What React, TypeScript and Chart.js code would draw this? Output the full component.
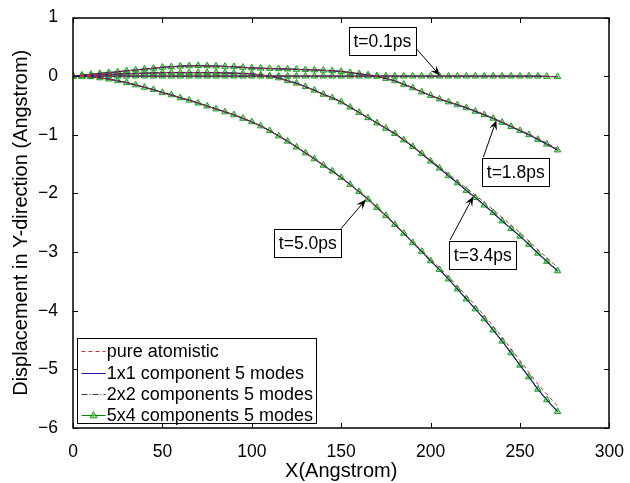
import React, { useEffect, useRef } from 'react';
import { Chart, registerables } from 'chart.js';

Chart.register(...registerables);

const FONT = "'Liberation Sans', Arial, Helvetica, sans-serif";

// x positions (Angstrom)
const xFine = [0, 5, 10, 15, 20, 25, 30, 35, 40, 45, 50, 55, 60, 65, 70, 75, 80, 85, 90, 95, 100, 105, 110, 115, 120, 125, 130, 135, 140, 145, 150, 155, 160, 165, 170, 175, 180, 185, 190, 195, 200, 205, 210, 215, 220, 225, 230, 235, 240, 245, 250, 255, 260, 265, 271];
const xCoarse = [0, 10, 20, 30, 40, 50, 60, 70, 80, 90, 100, 110, 120, 130, 140, 150, 160, 170, 180, 190, 200, 210, 220, 230, 240, 250, 260, 271];

// reduced-order (component) models, sampled on xFine
const t01Fine = [0, 0, 0, 0, 0, 0, 0, 0, 0, 0, 0, 0, 0, 0, 0, 0, 0, 0, 0, 0, 0, 0, 0, 0, 0, 0, 0, 0, 0, 0, 0, 0, 0, 0, 0, 0, 0, 0, 0, 0, 0, 0, 0, 0, 0, 0, 0, 0, 0, 0, 0, 0, 0, -0.005, -0.01];
const t18Fine = [0, 0.015, 0.03, 0.045, 0.06, 0.075, 0.09, 0.105, 0.12, 0.135, 0.15, 0.16, 0.17, 0.175, 0.18, 0.175, 0.17, 0.165, 0.16, 0.15, 0.14, 0.135, 0.13, 0.125, 0.12, 0.115, 0.11, 0.105, 0.1, 0.09, 0.08, 0.06, 0.04, 0.02, 0.0, -0.04, -0.08, -0.14, -0.2, -0.27, -0.33, -0.39, -0.44, -0.49, -0.54, -0.6, -0.66, -0.72, -0.79, -0.86, -0.93, -1.0, -1.08, -1.16, -1.26];
const t34Fine = [0, 0.005, 0.01, 0.02, 0.03, 0.035, 0.04, 0.045, 0.05, 0.055, 0.06, 0.06, 0.06, 0.06, 0.06, 0.06, 0.06, 0.055, 0.05, 0.045, 0.04, 0.02, 0.0, -0.03, -0.08, -0.12, -0.18, -0.24, -0.31, -0.37, -0.44, -0.53, -0.62, -0.71, -0.8, -0.89, -0.98, -1.09, -1.2, -1.32, -1.45, -1.57, -1.7, -1.82, -1.95, -2.07, -2.2, -2.33, -2.47, -2.6, -2.73, -2.87, -3.02, -3.16, -3.32];
const t50Fine = [0, -0.003, -0.01, -0.03, -0.05, -0.08, -0.11, -0.15, -0.19, -0.23, -0.28, -0.32, -0.37, -0.41, -0.46, -0.51, -0.56, -0.61, -0.66, -0.72, -0.78, -0.85, -0.93, -1.02, -1.11, -1.21, -1.31, -1.41, -1.52, -1.62, -1.73, -1.85, -1.97, -2.1, -2.24, -2.38, -2.53, -2.68, -2.84, -2.99, -3.15, -3.3, -3.46, -3.63, -3.8, -3.97, -4.14, -4.33, -4.52, -4.72, -4.93, -5.13, -5.34, -5.52, -5.72];

// pure atomistic, sampled on xCoarse
const atom01 = [0, 0, 0, 0, 0, 0, 0, 0, 0, 0, 0, 0, 0, 0, 0, 0, 0, 0, 0, 0, 0, 0, 0, 0, 0, 0, 0, -0.01];
const atom18 = [0, 0.03, 0.06, 0.09, 0.12, 0.15, 0.17, 0.18, 0.17, 0.16, 0.14, 0.13, 0.12, 0.11, 0.1, 0.08, 0.04, 0.0, -0.08, -0.2, -0.33, -0.44, -0.53, -0.65, -0.78, -0.92, -1.06, -1.24];
const atom34 = [0, 0.01, 0.03, 0.04, 0.05, 0.06, 0.06, 0.06, 0.06, 0.05, 0.04, 0.0, -0.08, -0.18, -0.31, -0.44, -0.62, -0.8, -0.98, -1.19, -1.43, -1.67, -1.91, -2.15, -2.41, -2.67, -2.96, -3.26];
const atom50 = [0, -0.01, -0.05, -0.11, -0.19, -0.28, -0.37, -0.46, -0.56, -0.66, -0.78, -0.93, -1.11, -1.31, -1.52, -1.73, -1.97, -2.24, -2.52, -2.83, -3.12, -3.42, -3.74, -4.08, -4.45, -4.85, -5.25, -5.63];

const legendLabels = ['pure atomistic', '1x1 component 5 modes', '2x2 components 5 modes', '5x4 components 5 modes'];

// annotations: box centre, arrow tail and arrow tip in data coordinates
const annotations = [
  { label: 't=0.1ps', box: [173.0, 0.596], tail: [191.6, 0.483], tip: [205.2, 0.01] },
  { label: 't=1.8ps', box: [247.6, -1.629], tail: [229.5, -1.38], tip: [236.8, -0.75] },
  { label: 't=3.4ps', box: [229.2, -3.045], tail: [210.9, -2.794], tip: [223.9, -2.05] },
  { label: 't=5.0ps', box: [131.3, -2.84], tail: [149.9, -2.6], tip: [163.8, -2.105] },
];

const RED = '#d42a2a';
const BLUE = '#1a1aa0';
const DARK = '#3a3a3a';
const GREEN = '#078a07';
const MARK_EDGE = '#1f9f1f';
const MARK_FILL = 'rgba(80,200,80,0.6)';

const pts = (xs: number[], ys: number[]) => xs.map((x, i) => ({ x, y: ys[i] }));
const minus = (v: number | string) => String(v).replace('-', '\u2212');

const framePlugin = {
  id: 'matlabFrame',
  afterDraw(chart: any) {
    const { ctx, chartArea: a, scales } = chart;
    const L = Math.round(a.left);
    const R = Math.round(a.right);
    const T = Math.round(a.top);
    const B = Math.round(a.bottom);
    ctx.save();
    ctx.strokeStyle = '#000';
    ctx.lineWidth = 1.5;
    ctx.strokeRect(L, T, R - L, B - T);
    ctx.lineWidth = 1;
    const tl = 5;
    ctx.beginPath();
    scales.x.ticks.forEach((t: any) => {
      const px = Math.round(scales.x.getPixelForValue(t.value)) + 0.5;
      ctx.moveTo(px, B); ctx.lineTo(px, B - tl);
      ctx.moveTo(px, T); ctx.lineTo(px, T + tl);
    });
    scales.y.ticks.forEach((t: any) => {
      const py = Math.round(scales.y.getPixelForValue(t.value)) + 0.5;
      ctx.moveTo(L, py); ctx.lineTo(L + tl, py);
      ctx.moveTo(R, py); ctx.lineTo(R - tl, py);
    });
    ctx.stroke();

    // annotations
    ctx.font = `17.5px ${FONT}`;
    annotations.forEach((an) => {
      const tx = scales.x.getPixelForValue(an.tail[0]);
      const ty = scales.y.getPixelForValue(an.tail[1]);
      const hx = scales.x.getPixelForValue(an.tip[0]);
      const hy = scales.y.getPixelForValue(an.tip[1]);
      const ang = Math.atan2(hy - ty, hx - tx);
      const len = 10, hw = 4;
      const cos = Math.cos(ang), sin = Math.sin(ang);
      ctx.strokeStyle = '#000';
      ctx.lineWidth = 1;
      ctx.beginPath();
      ctx.moveTo(tx, ty);
      ctx.lineTo(hx - cos * len * 0.6, hy - sin * len * 0.6);
      ctx.stroke();
      ctx.fillStyle = '#000';
      ctx.beginPath();
      ctx.moveTo(hx, hy);
      ctx.lineTo(hx - cos * len - sin * hw, hy - sin * len + cos * hw);
      ctx.lineTo(hx - cos * len * 0.6, hy - sin * len * 0.6);
      ctx.lineTo(hx - cos * len + sin * hw, hy - sin * len - cos * hw);
      ctx.closePath();
      ctx.fill();

      const cx = scales.x.getPixelForValue(an.box[0]);
      const cy = scales.y.getPixelForValue(an.box[1]);
      const tw = ctx.measureText(an.label).width;
      const bw = Math.round(tw + 9);
      const bh = 28;
      const bx = Math.round(cx - bw / 2) + 0.5;
      const by = Math.round(cy - bh / 2) + 0.5;
      ctx.fillStyle = '#fff';
      ctx.fillRect(bx, by, bw, bh);
      ctx.strokeStyle = '#000';
      ctx.strokeRect(bx, by, bw, bh);
      ctx.fillStyle = '#000';
      ctx.textAlign = 'center';
      ctx.textBaseline = 'middle';
      ctx.fillText(an.label, cx, cy + 1);
    });

    // legend (inside plot, bottom-left)
    ctx.font = `18px ${FONT}`;
    const rowH = 21.4;
    const maxW = Math.max(...legendLabels.map((s) => ctx.measureText(s).width));
    const lx = Math.round(a.left + 3.7) + 0.5;
    const lh = 85;
    const lw = Math.round(29.3 + maxW + 4);
    const ly = Math.round(a.bottom - 5 - lh) + 0.5;
    ctx.fillStyle = '#fff';
    ctx.fillRect(lx, ly, lw, lh);
    ctx.strokeStyle = '#000';
    ctx.lineWidth = 1;
    ctx.strokeRect(lx, ly, lw, lh);
    const styles = [
      { color: RED, dash: [4, 3] },
      { color: BLUE, dash: [] },
      { color: DARK, dash: [6, 2, 1, 2] },
      { color: GREEN, dash: [] },
    ];
    legendLabels.forEach((lab, i) => {
      const y = ly + 12.7 + i * rowH;
      const s = styles[i];
      ctx.save();
      ctx.strokeStyle = s.color;
      ctx.setLineDash(s.dash);
      ctx.beginPath();
      ctx.moveTo(lx + 4, Math.round(y) + 0.5);
      ctx.lineTo(lx + 28, Math.round(y) + 0.5);
      ctx.stroke();
      ctx.restore();
      if (i === 3) {
        const mx = lx + 16, my = y;
        ctx.beginPath();
        ctx.moveTo(mx, my - 3.8);
        ctx.lineTo(mx + 3.6, my + 2.4);
        ctx.lineTo(mx - 3.6, my + 2.4);
        ctx.closePath();
        ctx.fillStyle = MARK_FILL;
        ctx.fill();
        ctx.strokeStyle = MARK_EDGE;
        ctx.stroke();
      }
      ctx.fillStyle = '#000';
      ctx.textAlign = 'left';
      ctx.textBaseline = 'middle';
      ctx.fillText(lab, lx + 29.3, y + 1);
    });
    ctx.restore();
  },
};

export default function App() {
  const ref = useRef<HTMLCanvasElement | null>(null);

  useEffect(() => {
    if (!ref.current) return;
    const atomSets = [atom01, atom18, atom34, atom50];
    const fineSets = [t01Fine, t18Fine, t34Fine, t50Fine];
    const datasets: any[] = [];
    atomSets.forEach((ys) =>
      datasets.push({ data: pts(xCoarse, ys), borderColor: RED, borderDash: [4, 3], borderWidth: 1, pointRadius: 0 })
    );
    fineSets.forEach((ys) =>
      datasets.push({ data: pts(xFine, ys), borderColor: BLUE, borderWidth: 1, pointRadius: 0 })
    );
    fineSets.forEach((ys) =>
      datasets.push({ data: pts(xFine, ys), borderColor: DARK, borderDash: [6, 2, 1, 2], borderWidth: 1, pointRadius: 0 })
    );
    fineSets.forEach((ys) =>
      datasets.push({
        data: pts(xFine, ys),
        borderColor: GREEN,
        borderWidth: 1.2,
        pointStyle: 'triangle',
        pointRadius: 3.8,
        pointBorderColor: MARK_EDGE,
        pointBackgroundColor: MARK_FILL,
        pointBorderWidth: 1,
      })
    );

    const chart = new Chart(ref.current, {
      type: 'line',
      data: { datasets },
      options: {
        animation: false,
        responsive: true,
        maintainAspectRatio: false,
        layout: { padding: { top: 15, right: 16, left: 0, bottom: 0 } },
        plugins: { legend: { display: false }, tooltip: { enabled: false } },
        elements: { line: { tension: 0 } },
        scales: {
          x: {
            type: 'linear',
            min: 0,
            max: 300,
            ticks: { stepSize: 50, color: '#000', font: { size: 17.5, family: FONT }, padding: 6, maxRotation: 0, callback: (v: any) => minus(v) },
            grid: { display: false },
            border: { display: false },
            title: { display: true, text: 'X(Angstrom)', color: '#000', font: { size: 20, family: FONT }, padding: { top: 0, bottom: 0 } },
            afterFit: (s: any) => { s.height = 55; },
          },
          y: {
            type: 'linear',
            min: -6,
            max: 1,
            ticks: { stepSize: 1, color: '#000', font: { size: 17.5, family: FONT }, padding: 7, callback: (v: any) => minus(v) },
            grid: { display: false },
            border: { display: false },
            title: { display: true, text: 'Displacement in Y-direction (Angstrom)', color: '#000', font: { size: 20, family: FONT }, padding: { top: 9, bottom: 0 } },
            afterFit: (s: any) => { s.width = 73; },
          },
        },
      },
      plugins: [framePlugin],
    });
    return () => chart.destroy();
  }, []);

  return (
    <div style={{ position: 'fixed', left: 0, top: 0, width: 630, height: 483, background: '#fff' }}>
      <canvas ref={ref} />
    </div>
  );
}
